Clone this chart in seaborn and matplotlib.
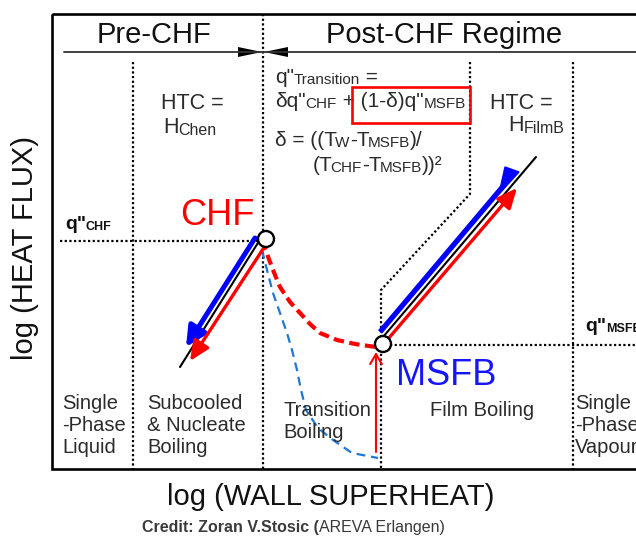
import matplotlib
matplotlib.use("Agg")
import matplotlib.pyplot as plt
import seaborn as sns
from matplotlib.patches import Rectangle, Circle, Polygon

# ---------------------------------------------------------------
# Boiling curve schematic: log(heat flux) vs log(wall superheat).
# Drawing units are pixels of the output canvas, y grows downward.
# ---------------------------------------------------------------

# Frame and header
frame_left, frame_top, frame_bottom = 52, 14, 469
header_y = 52
header_x = [64, 640]

# Key points of the curve
chf_point = (266, 239)
msfb_point = (383, 344)

# Nucleate boiling branch (reference line, cooling and heating paths)
nb_ref_x, nb_ref_y = [261, 180], [238, 367]
nb_blue_x, nb_blue_y = [255, 186], [238, 347]
nb_red_x, nb_red_y = [265, 190], [246, 361]

# Film boiling branch
fb_ref_x, fb_ref_y = [383, 536], [337, 157]
fb_blue_x, fb_blue_y = [380, 505], [332, 184]
fb_blue_head_x, fb_blue_head_y = [505, 519, 499], [167, 172, 194]
fb_red_x, fb_red_y = [388, 517], [339, 188]

# Transition boiling curves leaving CHF
trans_red_x = [262, 266, 270, 275, 280, 290, 300, 310, 320, 337, 355, 376]
trans_red_y = [240, 251, 262, 275, 287, 302, 313, 324, 333, 340, 344, 347]
trans_blue_x = [262, 267, 273, 280, 287, 292, 297, 301, 306, 318, 333, 352, 378]
trans_blue_y = [250, 270, 293, 313, 333, 350, 370, 390, 410, 428, 440, 453, 458]

# Quench (rewet) arrow below MSFB
quench_x, quench_y = [376, 376], [452, 352]

# Regime boundaries (dotted)
bound_nb_x, bound_nb_y = [133, 133], [62, 469]
bound_chf_x, bound_chf_y = [263, 263], [14, 469]
bound_fb_x, bound_fb_y = [470, 470, 381, 381], [62, 194, 290, 469]
bound_vap_x, bound_vap_y = [573, 573], [62, 469]
qchf_line_x, qchf_line_y = [60, 260], [241, 241]
qmsfb_line_x, qmsfb_line_y = [390, 640], [345, 345]

# Header separator arrowheads
bow_left_x, bow_left_y = [238, 238, 262], [47, 57, 52]
bow_right_x, bow_right_y = [288, 288, 264], [47, 57, 52]

# Highlight box around the MSFB term
box_x, box_y, box_w, box_h = 352, 87, 118, 36

# Regime names along the bottom
regimes = [
    (62, 394, "Single\n-Phase\nLiquid"),
    (147, 394, "Subcooled\n& Nucleate\nBoiling"),
    (283, 401, "Transition\nBoiling"),
    (430, 401, "Film Boiling"),
    (575, 394, "Single\n-Phase\nVapour"),
]

RED = "#ff0000"
BLUE = "#0000ff"
DASH_BLUE = "#1f78d0"
GREY = "#3a3a3a"

sns.set_theme(style="white")
plt.rcParams["font.family"] = ["Liberation Sans", "DejaVu Sans"]

fig = plt.figure(figsize=(6.36, 5.38), dpi=100)
ax = fig.add_axes([0, 0, 1, 1])


def line(x, y, **kw):
    sns.lineplot(x=x, y=y, ax=ax, sort=False, estimator=None, legend=False, **kw)


DOT = (0, (1, 1.1))

# Regime boundaries and flux levels
for bx, by in [(bound_nb_x, bound_nb_y), (bound_chf_x, bound_chf_y),
               (bound_fb_x, bound_fb_y), (bound_vap_x, bound_vap_y),
               (qchf_line_x, qchf_line_y), (qmsfb_line_x, qmsfb_line_y)]:
    line(bx, by, color="black", linewidth=1.6, linestyle=DOT)

# Header separator
line(header_x, [header_y, header_y], color="#333333", linewidth=1.3)
ax.add_patch(Polygon(list(zip(bow_left_x, bow_left_y)), closed=True, fc="black", ec="none"))
ax.add_patch(Polygon(list(zip(bow_right_x, bow_right_y)), closed=True, fc="black", ec="none"))

# Transition boiling curves
line(trans_blue_x, trans_blue_y, color=DASH_BLUE, linewidth=1.6, linestyle=(0, (4, 2.6)))
line(trans_red_x, trans_red_y, color=RED, linewidth=3.0, linestyle=(0, (2.5, 1.3)))

# Nucleate and film boiling reference lines
line(nb_ref_x, nb_ref_y, color="black", linewidth=1.5)
line(fb_ref_x, fb_ref_y, color="black", linewidth=1.5)


def arrow(x, y, color, lw, hl, hw):
    ax.annotate("", xy=(x[-1], y[-1]), xytext=(x[0], y[0]),
                arrowprops=dict(arrowstyle=f"-|>,head_length={hl},head_width={hw}",
                                color=color, lw=lw, shrinkA=0, shrinkB=0,
                                mutation_scale=12))


arrow(nb_blue_x, nb_blue_y, BLUE, 3.6, 1.0, 0.5)
arrow(nb_red_x, nb_red_y, RED, 2.4, 1.0, 0.45)
line(fb_blue_x, fb_blue_y, color=BLUE, linewidth=3.8, solid_capstyle="butt")
ax.add_patch(Polygon(list(zip(fb_blue_head_x, fb_blue_head_y)), closed=True, fc=BLUE, ec=BLUE, lw=1))
arrow(fb_red_x, fb_red_y, RED, 2.4, 1.0, 0.45)

# Quench arrow
ax.annotate("", xy=(quench_x[1], quench_y[1]), xytext=(quench_x[0], quench_y[0]),
            arrowprops=dict(arrowstyle="->,head_length=0.6,head_width=0.35",
                            color=RED, lw=1.5, shrinkA=0, shrinkB=0, mutation_scale=12))

# CHF and MSFB points
for c in (chf_point, msfb_point):
    ax.add_patch(Circle(c, radius=8, fc="white", ec="black", lw=1.7, zorder=6))

# Frame and highlight box
ax.add_patch(Rectangle((frame_left, frame_top), 700, frame_bottom - frame_top,
                       fill=False, ec="black", lw=1.9, zorder=7))
ax.add_patch(Rectangle((box_x, box_y), box_w, box_h, fill=False, ec=RED, lw=1.9, zorder=7))


def rich(x, y, runs):
    """Draw runs of (text, size, weight, color[, kern]) on one baseline, left to right."""
    prev = None
    for run in runs:
        s, size, weight, color = run[:4]
        kern = run[4] if len(run) > 4 else 0
        if prev is None:
            prev = ax.text(x, y, s, fontsize=size, fontweight=weight, color=color,
                           ha="left", va="baseline")
        else:
            prev = ax.annotate(s, xy=(1, 0), xycoords=prev, xytext=(kern, 0),
                               textcoords="offset points", fontsize=size,
                               fontweight=weight, color=color, ha="left", va="bottom")
    return prev


TXT = "#2b2b2b"
# Header titles
ax.text(154, 43, "Pre-CHF", ha="center", va="baseline", fontsize=21, color="#111111")
ax.text(444, 43, "Post-CHF Regime", ha="center", va="baseline", fontsize=21, color="#111111")

# Heat transfer correlations
ax.text(192, 109, "HTC =", ha="center", va="baseline", fontsize=15.5, color=TXT)
rich(163, 133, [("H", 15.5, "normal", TXT), ("Chen", 11.5, "normal", TXT)])
ax.text(490, 109, "HTC =", ha="left", va="baseline", fontsize=15.5, color=TXT)
rich(508, 131, [("H", 15.5, "normal", TXT), ("FilmB", 11.5, "normal", TXT)])

rich(275, 83, [('q"', 15, "normal", TXT), ("Transition", 11, "normal", TXT), (" =", 15, "normal", TXT)])
rich(275, 107, [('δq"', 15, "normal", TXT), ("CHF", 11, "normal", TXT),
                (' + (1-δ)q"', 15, "normal", TXT), ("MSFB", 11, "normal", TXT)])
rich(275, 146, [("δ = ((T", 15, "normal", TXT), ("W", 11, "normal", TXT, -1.2),
                ("-T", 15, "normal", TXT), ("MSFB", 11, "normal", TXT, -1.2),
                (")/", 15, "normal", TXT)])
rich(313, 171, [("(T", 15, "normal", TXT), ("CHF", 11, "normal", TXT, -1.5),
                ("-T", 15, "normal", TXT), ("MSFB", 11, "normal", TXT, -1.2),
                ("))²", 15, "normal", TXT)])

# Flux level labels
rich(65, 229, [('q"', 14, "bold", "#111111"), ("CHF", 9, "bold", "#111111")])
rich(585, 331, [('q"', 14, "bold", "#111111"), ("MSFB", 9, "bold", "#111111")])

# Point labels
ax.text(180, 225, "CHF", color=RED, fontsize=26, ha="left", va="baseline")
ax.text(396, 385, "MSFB", color="#1515ff", fontsize=26, ha="left", va="baseline")

# Regime names
for x, y, s in regimes:
    ax.text(x, y, s, ha="left", va="top", fontsize=14.5, linespacing=1.2, color=TXT)

# Axis titles
ax.text(25, 248, "log (HEAT FLUX)", rotation=90, ha="center", va="center",
        fontsize=21, color="#111111")
ax.text(331, 497, "log (WALL SUPERHEAT)", ha="center", va="center",
        fontsize=21, color="#111111")

# Credit line
rich(142, 532, [("Credit: Zoran V.Stosic (", 11.5, "bold", GREY),
                ("AREVA Erlangen)", 11.5, "normal", GREY)])

ax.set_xlim(0, 636)
ax.set_ylim(538, 0)
ax.axis("off")

fig.savefig("out.png", dpi=100)
